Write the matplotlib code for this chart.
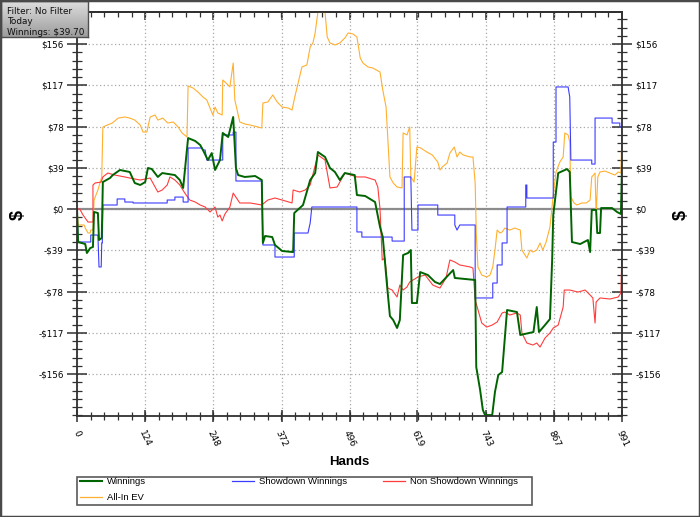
import matplotlib
matplotlib.use("Agg")
import matplotlib.pyplot as plt
import numpy as np
from matplotlib.lines import Line2D
from matplotlib.patches import Rectangle
from matplotlib.ticker import FixedLocator, MultipleLocator
from matplotlib.colors import LinearSegmentedColormap

# axis ticks
hand_ticks = [0, 124, 248, 372, 496, 619, 743, 867, 991]
dollar_ticks = [-156, -117, -78, -39, 0, 39, 78, 117, 156]

# Winnings (green)
win_hands = [0, 2, 15, 18, 24, 29, 31, 38, 40, 45, 47, 60, 65, 78, 96, 105, 115, 124, 129, 136,
             147, 155, 178, 187, 193, 202, 215, 224, 229, 238, 245, 251, 260, 265, 275, 284, 289, 293, 305, 324,
             336, 338, 342, 355, 360, 373, 393, 395, 411, 424, 433, 438, 451, 460, 469, 478, 487, 505, 509, 524,
             542, 551, 556, 560, 564, 569, 575, 582, 587, 593, 602, 607, 609, 618, 624, 638, 651, 660, 684, 687,
             724, 726, 733, 738, 742, 755, 760, 766, 773, 782, 800, 806, 830, 836, 840, 851, 860, 864, 866, 875,
             891, 896, 900, 915, 929, 933, 936, 944, 946, 951, 953, 973, 982, 989, 991]
win_vals = [0, -31.2, -33.1, -41.6, -36.9, -35.9, -2.8, -3.8, -29.3, -27.4, 25.5, 29.3, 32.1, 36.9, 35, 24.6, 22.7, 25.5, 38.8, 37.8,
            30.3, 34, 32.1, 27.4, 19.9, 67.1, 64.3, 60.5, 55.8, 46.3, 52.9, 36.9, 46.3, 71.9, 68.1, 87, 38.8, 32.1, 30.3, 31.2,
            27.4, -32.1, -25.5, -26.5, -34, -39.7, -40.7, -3.8, 3.8, 27.4, 34, 53.9, 49.2, 38.8, 35, 27.4, 34, 32.1, 13.2, 12.3,
            6.6, -17, -26.5, -50.1, -73.7, -101.2, -105, -112.5, -105, -43.5, -41.6, -38.8, -88.9, -88.9, -59.6, -62.4, -69, -70.9, -57.7, -65.2,
            -67.1, -149.4, -171.1, -190, -194.8, -194.8, -173, -157, -154.1, -95.5, -97.4, -119.1, -116.3, -92.7, -116.3, -109.7, -104, -48.2, -5.7, 34,
            37.8, 35, -31.2, -33.1, -29.3, -40.7, -0.9, -0.9, -22.7, -22.7, 0.9, 0.9, -2.8, -4.7, 39.7]

# Showdown Winnings (blue)
sd_hands = [0, 2, 25, 25, 38, 40, 44, 45, 46, 47, 73, 73, 87, 87, 102, 102, 164, 164, 178, 178,
            193, 193, 202, 202, 227, 229, 233, 236, 265, 265, 284, 284, 289, 289, 336, 338, 360, 360, 395, 395,
            420, 424, 427, 509, 509, 518, 518, 573, 573, 595, 595, 607, 609, 620, 620, 656, 656, 687, 687, 691,
            696, 724, 724, 756, 756, 764, 764, 773, 773, 782, 782, 816, 816, 818, 818, 866, 866, 871, 871, 893,
            896, 898, 936, 936, 942, 942, 973, 973, 987, 987, 991]
sd_vals = [0, -31.2, -31.2, -24.6, -24.6, -54.8, -54.8, -32.1, -32.1, 3.8, 3.8, 9.5, 9.5, 6.6, 6.6, 5.7, 5.7, 8.5, 8.5, 11.3,
           11.3, 6.6, 6.6, 57.7, 57.7, 55.8, 55.8, 46.3, 46.3, 70, 70, 72.8, 72.8, 26.5, 26.5, -34, -34, -45.4, -45.4, -22.7,
           -22.7, -13.2, 1.9, 1.9, -21.7, -21.7, -26.5, -26.5, -30.3, -30.3, 30.3, 30.3, -19.9, -19.9, 3.8, 3.8, -5.7, -5.7, -15.1, -19.9,
           -15.1, -15.1, -84.1, -84.1, -70, -70, -52.9, -52.9, -32.1, -32.1, 1.9, 1.9, 22.7, 22.7, 10.4, 10.4, 63.3, 63.3, 115.4, 115.4,
           105.9, 46.3, 46.3, 42.5, 42.5, 86, 86, 81.3, 81.3, 77.5, 77.5]

# Non Showdown Winnings (red)
nsd_hands = [0, 5, 11, 20, 29, 29, 33, 44, 47, 56, 69, 87, 96, 115, 133, 147, 155, 164, 169, 178,
             187, 196, 205, 215, 224, 233, 242, 251, 256, 260, 264, 269, 278, 284, 296, 315, 336, 347, 360, 373,
             391, 393, 405, 415, 424, 438, 451, 460, 473, 487, 509, 524, 542, 547, 551, 555, 560, 565, 573, 582,
             587, 593, 600, 605, 620, 633, 647, 655, 660, 671, 678, 687, 696, 715, 720, 724, 736, 745, 755, 764,
             773, 778, 787, 800, 806, 809, 818, 829, 836, 842, 851, 860, 866, 875, 884, 886, 896, 911, 924, 933,
             938, 942, 944, 951, 969, 984, 989, 991]
nsd_vals = [0, 0, -5.7, -12.3, -12.3, 22.7, 24.6, 25.5, 30.3, 34, 32.1, 30.3, 29.3, 27.4, 29.3, 16.1, 18, 22.7, 30.3, 27.4,
            22.7, 15.1, 8.5, 6.6, 3.8, 1.9, -2.8, 1.9, -7.6, -5.7, -11.3, -4.7, 1.9, 15.1, 5.7, 5.7, 3.8, 8.5, 10.4, 8.5,
            5.7, 18, 16.1, 18, 22.7, 51.1, 46.3, 19.9, 20.8, 34, 30.3, 30.3, 27.4, 20.8, 0, -48.2, -46.3, -74.7, -76.6, -83.2,
            -71.9, -76.6, -73.7, -69, -64.3, -62.4, -71.9, -73.7, -74.7, -65.2, -48.2, -50.1, -52.9, -54.8, -55.8, -86, -107.8, -111.6, -109.7, -106.8,
            -98.3, -97.4, -100.2, -98.3, -100.2, -117.2, -126.7, -128.6, -126.7, -130.5, -122, -117.2, -112.5, -109.7, -92.7, -76.6, -76.6, -78.5, -76.6, -81.3,
            -84.1, -107.8, -87.9, -84.1, -85.1, -83.2, -79.4, -37.5]

# All-In EV (orange)
ev_hands = [0, 2, 13, 15, 20, 24, 25, 29, 31, 38, 45, 47, 55, 64, 75, 87, 96, 105, 115, 120,
            127, 133, 142, 147, 156, 165, 175, 184, 191, 200, 202, 211, 220, 229, 236, 242, 247, 251, 256, 264,
            265, 271, 278, 284, 287, 296, 305, 315, 329, 336, 338, 347, 356, 364, 373, 384, 391, 396, 402, 409,
            418, 424, 429, 433, 438, 451, 455, 460, 469, 478, 487, 493, 502, 509, 515, 520, 529, 538, 551, 556,
            562, 565, 569, 575, 582, 591, 593, 600, 605, 607, 613, 618, 625, 636, 646, 656, 660, 664, 673, 678,
            686, 691, 696, 702, 715, 720, 724, 726, 729, 736, 745, 751, 756, 760, 764, 769, 773, 778, 787, 796,
            806, 809, 818, 824, 829, 836, 842, 847, 853, 860, 866, 871, 878, 884, 887, 893, 896, 898, 904, 909,
            918, 926, 933, 936, 942, 944, 947, 951, 960, 969, 978, 984, 989, 991]
ev_vals = [0, -15.1, -15.1, -18, -22.7, -22.7, -19.9, -19.9, 8.5, 18, 30.3, 77.5, 79.4, 81.3, 86, 87, 86, 84.1, 79.4, 72.8,
           72.8, 87, 88.9, 84.1, 86, 81.3, 82.3, 77.5, 71.9, 68.1, 116.3, 114.4, 110.6, 105.9, 103.1, 95.5, 88.9, 96.4, 90.8, 88.9,
           122, 119.1, 115.4, 138, 103.1, 82.3, 80.4, 79.4, 77.5, 76.6, 100.2, 101.2, 107.8, 101.2, 96.4, 95.5, 93.6, 105.9, 119.1, 134.3,
           136.2, 153.2, 157, 166.4, 186, 186, 162.6, 157, 155.1, 157, 161.7, 166.4, 165.5, 162.6, 142.8, 138, 134.3, 133.3, 129.5, 112.5,
           96.4, 68.1, 30.3, 24.6, 20.8, 19.9, 71.9, 70, 77.5, 30.3, 25.5, 58.6, 57.7, 53.9, 51.1, 44.4, 36.9, 39.7, 43.5, 52.9,
           58.6, 49.2, 53.9, 51.1, 49.2, 49.2, 24.6, -22.7, -54.8, -62.4, -64.3, -62.4, -54.8, -38.8, -19.9, -22.7, -21.7, -18, -19.9, -18,
           -19.9, -38.8, -46.3, -38.8, -40.7, -38.8, -32.1, -38.8, -31.2, -17, 13.2, 35, 44.4, 49.2, 71.9, 70, 63.3, 11.3, 5.7, 3.8,
           5.7, 5.7, 8.5, 30.3, 34, -5.7, 30.3, 35, 35.9, 34, 32.1, 35, 34, 74.7]

info_lines = ["Filter: No Filter", "Today", "Winnings: $39.70"]

GREEN = '#006400'
BLUE = '#3c3cff'
RED = '#ff3c3c'
ORANGE = '#ffb030'


def money(v):
    return "$%d" % v if v >= 0 else "-$%d" % -v


plt.rcParams['font.family'] = 'DejaVu Sans'

W, H = 700, 517
fig = plt.figure(figsize=(7, 5.17), dpi=100)
ax = fig.add_axes([77 / W, 1 - 416 / H, 545 / W, 403.5 / H])
ax.set_xlim(0, 991)
ax.set_ylim(-195.7, 185.8)

ax.axhline(0, color='#8c8c8c', lw=1.6, zorder=1.5)
ax.plot(ev_hands, ev_vals, color=ORANGE, lw=0.8, zorder=2)
ax.plot(nsd_hands, nsd_vals, color=RED, lw=0.8, zorder=2.1)
ax.plot(sd_hands, sd_vals, color=BLUE, lw=0.8, zorder=2.2)
ax.plot(win_hands, win_vals, color=GREEN, lw=1.4, zorder=2.3)

# grid + ticks
ax.set_axisbelow(True)
ax.grid(True, which='major', color='#a8a8a8', linestyle=(0, (1, 2)), lw=0.9)
ax.set_xticks(hand_ticks)
ax.set_xticklabels([str(h) for h in hand_ticks], rotation=-65, ha='center', va='top')
ax.xaxis.set_minor_locator(FixedLocator(np.linspace(0, 991, 41)))
ax.set_yticks(dollar_ticks)
ax.set_yticklabels([money(v) for v in dollar_ticks])
ax.yaxis.set_minor_locator(MultipleLocator(7.8))
ax.yaxis.set_ticks_position('both')
ax.tick_params(axis='y', which='major', direction='inout', length=15, width=1.1,
               labelleft=True, labelright=True, labelsize=6.3, pad=2, color='#303030')
ax.tick_params(axis='y', which='minor', direction='inout', length=7, width=0.9, color='#303030')
ax.tick_params(axis='x', which='major', direction='inout', length=9, width=1.1,
               labelsize=6.5, pad=5, color='#303030')
ax.tick_params(axis='x', which='minor', direction='inout', length=6, width=0.9, color='#303030')
for sp in ax.spines.values():
    sp.set_color('#303030')
    sp.set_linewidth(1.3)

top = ax.secondary_xaxis('top')
top.set_xticks(hand_ticks)
top.set_xticklabels([])
top.xaxis.set_minor_locator(FixedLocator(np.linspace(0, 991, 41)))
top.tick_params(which='major', direction='in', length=6, width=1.1, color='#303030')
top.tick_params(which='minor', direction='in', length=3.5, width=0.9, color='#303030')
top.spines['top'].set_color('#303030')
top.spines['top'].set_linewidth(1.3)

# axis titles
fig.text(349 / W, 1 - 462 / H, 'Hands', ha='center', va='center', fontsize=9.5,
         fontweight='bold', family='Liberation Sans')
fig.text(18 / W, 1 - 215 / H, '$', ha='center', va='center', fontsize=13,
         fontweight='bold', rotation=90, family='Liberation Sans')
fig.text(681 / W, 1 - 215 / H, '$', ha='center', va='center', fontsize=13,
         fontweight='bold', rotation=90, family='Liberation Sans')

# legend: three single-column legends inside one frame
leg_kw = dict(loc='upper left', frameon=False, borderpad=0, borderaxespad=0,
              handlelength=2.3, handletextpad=0.6, labelspacing=0.75,
              prop={'family': 'Liberation Sans', 'size': 6.8})
h_win = Line2D([], [], color=GREEN, lw=1.5)
h_sd = Line2D([], [], color=BLUE, lw=0.9)
h_nsd = Line2D([], [], color=RED, lw=0.9)
h_ev = Line2D([], [], color=ORANGE, lw=0.9)
fig.legend([h_win, h_ev], ['Winnings', 'All-In EV'], bbox_to_anchor=(80 / W, 1 - 477 / H), **leg_kw)
fig.legend([h_sd], ['Showdown Winnings'], bbox_to_anchor=(232 / W, 1 - 477 / H), **leg_kw)
fig.legend([h_nsd], ['Non Showdown Winnings'], bbox_to_anchor=(383 / W, 1 - 477 / H), **leg_kw)
fig.patches.append(Rectangle((77 / W, 1 - 505 / H), 455 / W, 28 / H, transform=fig.transFigure,
                             fill=False, edgecolor='#5a5a5a', lw=1.2))

# info box top-left
box = fig.add_axes([1 / W, 1 - 37 / H, 87 / W, 36 / H])
grad = np.linspace(0, 1, 64).reshape(-1, 1)
box.imshow(grad, cmap=LinearSegmentedColormap.from_list('g', ['#dedede', '#9c9c9c']),
           aspect='auto', extent=[0, 1, 0, 1])
box.set_xticks([])
box.set_yticks([])
for sp in box.spines.values():
    sp.set_color('#505050')
    sp.set_linewidth(1.0)
for i, line in enumerate(info_lines):
    box.text(6 / 87, 1 - (10.5 + i * 10.5) / 36, line, transform=box.transAxes,
             ha='left', va='center', fontsize=6.4, color='#101010')

# outer border
fig.patches.append(Rectangle((0, 0), 1, 1, transform=fig.transFigure, fill=False,
                             edgecolor='#4a4a4a', lw=2.5))

fig.savefig('out.png', dpi=100)
